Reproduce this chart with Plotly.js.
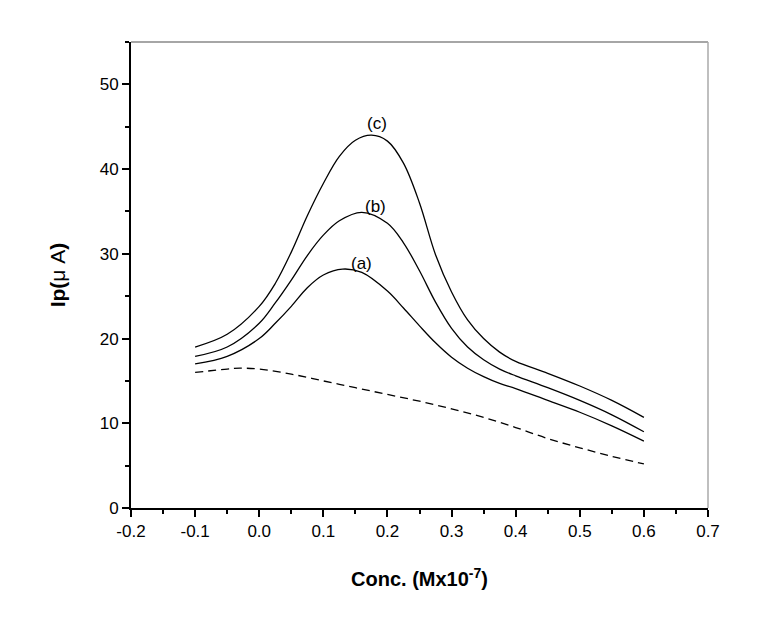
<!DOCTYPE html>
<html>
<head>
<meta charset="utf-8">
<script src="https://cdn.plot.ly/plotly-3.0.1.min.js"></script>
<style>
  html, body { margin: 0; padding: 0; background: #fff; }
  #myDiv { width: 768px; height: 629px; }
</style>
</head>
<body>
<div id="myDiv"></div>
<script>
// values
var xA = [-0.1, -0.05, 0.0, 0.025, 0.05, 0.075, 0.1, 0.13, 0.16, 0.2, 0.225, 0.25, 0.275, 0.3, 0.325, 0.35, 0.375, 0.4, 0.45, 0.5, 0.55, 0.6];
var yA = [17.0, 17.9, 20.0, 21.8, 23.8, 26.0, 27.5, 28.2, 27.8, 25.6, 23.6, 21.5, 19.5, 17.8, 16.5, 15.5, 14.7, 14.1, 12.7, 11.3, 9.7, 7.9];

var xB = [-0.1, -0.05, 0.0, 0.025, 0.05, 0.075, 0.1, 0.125, 0.16, 0.2, 0.225, 0.25, 0.275, 0.3, 0.325, 0.35, 0.375, 0.4, 0.45, 0.5, 0.55, 0.6];
var yB = [17.9, 19.0, 21.8, 24.2, 26.9, 29.8, 32.2, 33.9, 34.9, 33.6, 31.3, 28.0, 24.3, 21.2, 19.0, 17.5, 16.4, 15.6, 14.2, 12.7, 11.0, 9.0];

var xC = [-0.1, -0.05, 0.0, 0.025, 0.05, 0.075, 0.1, 0.125, 0.15, 0.175, 0.2, 0.225, 0.25, 0.275, 0.3, 0.325, 0.35, 0.375, 0.4, 0.45, 0.5, 0.55, 0.6];
var yC = [19.0, 20.5, 23.8, 26.5, 30.2, 34.5, 38.3, 41.5, 43.4, 44.0, 43.3, 40.7, 36.0, 29.9, 25.5, 22.2, 20.0, 18.4, 17.3, 15.9, 14.4, 12.7, 10.7];

var xBlank = [-0.1, -0.05, -0.03, 0.0, 0.05, 0.1, 0.15, 0.2, 0.25, 0.3, 0.35, 0.4, 0.45, 0.5, 0.55, 0.6];
var yBlank = [16.0, 16.4, 16.5, 16.4, 15.8, 15.0, 14.2, 13.4, 12.6, 11.7, 10.7, 9.5, 8.2, 7.1, 6.1, 5.2];

var xTickVals = [-0.2, -0.1, 0.0, 0.1, 0.2, 0.3, 0.4, 0.5, 0.6, 0.7];
var xTickText = ['-0.2', '-0.1', '0.0', '0.1', '0.2', '0.3', '0.4', '0.5', '0.6', '0.7'];

var curveLabels = ['(a)', '(b)', '(c)'];
var labelX = [0.16, 0.181, 0.184];
var labelY = [28.9, 35.6, 45.4];

function solid(x, y) {
  return { x: x, y: y, mode: 'lines', line: { color: '#000', width: 1.3, shape: 'spline', smoothing: 1 } };
}

var data = [
  solid(xA, yA),
  solid(xB, yB),
  solid(xC, yC),
  { x: xBlank, y: yBlank, mode: 'lines', line: { color: '#000', width: 1.3, dash: '8px,5px', shape: 'spline', smoothing: 1 } }
];

var annotations = curveLabels.map(function (t, i) {
  return { x: labelX[i], y: labelY[i], xref: 'x', yref: 'y', text: t, showarrow: false,
           font: { family: 'Liberation Sans, Arial', size: 17, color: '#000' } };
});

var layout = {
  width: 768, height: 629,
  margin: { l: 131, r: 60, t: 42, b: 121 },
  paper_bgcolor: '#fff', plot_bgcolor: '#fff',
  showlegend: false,
  font: { family: 'Liberation Sans, Arial', size: 17, color: '#000' },
  xaxis: {
    range: [-0.2, 0.7], tickmode: 'array', tickvals: xTickVals, ticktext: xTickText,
    showgrid: false, zeroline: false,
    showline: true, linecolor: '#000', linewidth: 2,
    ticks: 'outside', ticklen: 7, tickwidth: 2, tickcolor: '#000',
    minor: { dtick: 0.05, tick0: -0.2, ticks: 'outside', ticklen: 4, tickwidth: 2, tickcolor: '#000' },
    title: { text: '<b>Conc. (Mx10<sup>-7</sup>)</b>', font: { size: 20 }, standoff: 32 }
  },
  yaxis: {
    range: [0, 55], dtick: 10,
    showgrid: false, zeroline: false,
    showline: true, linecolor: '#000', linewidth: 2,
    ticks: 'outside', ticklen: 7, tickwidth: 2, tickcolor: '#000',
    minor: { dtick: 5, ticks: 'outside', ticklen: 4, tickwidth: 2, tickcolor: '#000' },
    title: { text: '<b>Ip(</b>\u03bc A<b>)</b>', font: { size: 21 }, standoff: 28 }
  },
  shapes: [
    { type: 'line', xref: 'paper', yref: 'paper', x0: 0, x1: 1, y0: 1, y1: 1, line: { color: '#888', width: 1.5 } },
    { type: 'line', xref: 'paper', yref: 'paper', x0: 1, x1: 1, y0: 0, y1: 1, line: { color: '#aaa', width: 1.5 } }
  ],
  annotations: annotations
};

Plotly.newPlot('myDiv', data, layout, { displayModeBar: false });
</script>
</body>
</html>
